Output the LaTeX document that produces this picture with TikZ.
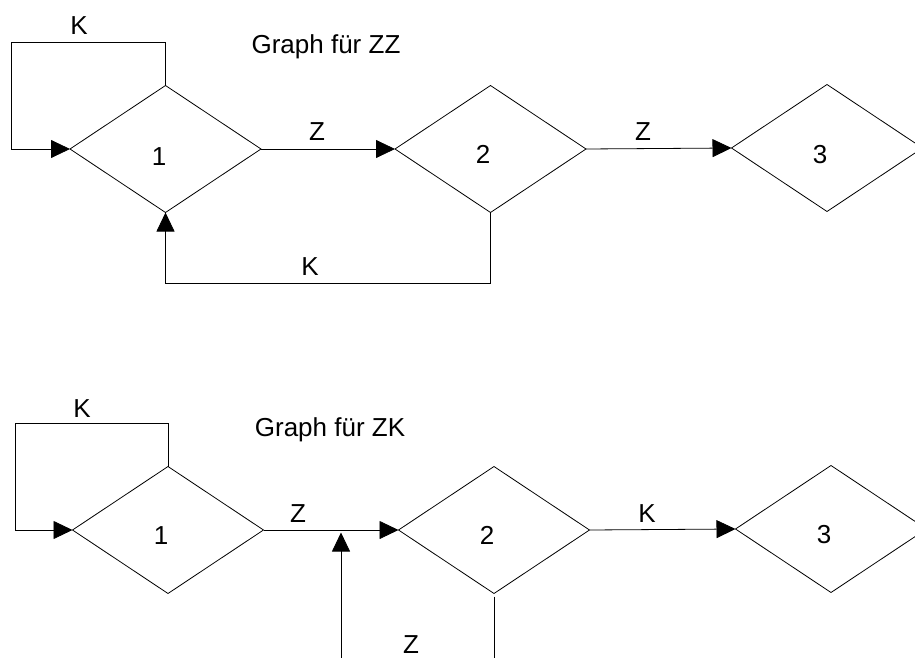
\documentclass[tikz,border=0pt]{standalone}
\usepackage{fontspec}
\setmainfont{Liberation Sans}
\usetikzlibrary{shapes.geometric,arrows.meta}
\tikzset{
  dia/.style={shape=diamond,draw=black,line width=0.8pt,minimum width=191pt,minimum height=127pt,inner sep=0pt,outer sep=0pt},
  lbl/.style={anchor=base,inner sep=0pt,font=\fontsize{26}{30}\selectfont},
  conn/.style={draw=black,line width=0.8pt},
  arr/.style={conn,-{Triangle[length=19pt,width=18pt]}}
}
\begin{document}
\begin{tikzpicture}[x=1pt,y=1pt]
\clip (0,0) rectangle (915,-658);
\fill[white] (0,0) rectangle (915,-658);
% ---------- top graph ----------
\node[dia] (t1) at (165.5,-149) {};
\node[dia] (t2) at (490.5,-149) {};
\node[dia] (t3) at (827,-148) {};
\node[lbl] (t1l) at (159,-165) {1};
\node[lbl] (t2l) at (483,-163) {2};
\node[lbl] (t3l) at (820,-163) {3};
\node[lbl] (title1) at (326,-53.3) {Graph für ZZ};
\coordinate (tloop) at (11,-42);
\draw[arr] (t1.north) |- (tloop) |- (t1.west);
\node[lbl] (tK) at (79,-34.3) {K};
\draw[arr] (t1.east) -- (t2.west);
\node[lbl] (tZ1) at (317,-140.8) {Z};
\draw[arr] (t2.east) -- (t3.west);
\node[lbl] (tZ2) at (643,-140.8) {Z};
\coordinate (tback) at (165.5,-283);
\draw[arr] (t2.south) |- (tback) -- (t1.south);
\node[lbl] (tKb) at (310,-275.8) {K};
% ---------- bottom graph ----------
\node[dia] (b1) at (168,-530) {};
\node[dia] (b2) at (494,-530) {};
\node[dia] (b3) at (831,-529) {};
\node[lbl] (b1l) at (161,-544) {1};
\node[lbl] (b2l) at (487,-544) {2};
\node[lbl] (b3l) at (824,-543) {3};
\node[lbl] (title2) at (330,-436.3) {Graph für ZK};
\coordinate (bloop) at (15,-423);
\draw[arr] (b1.north) |- (bloop) |- (b1.west);
\node[lbl] (bK) at (82,-417.3) {K};
\draw[arr] (b1.east) -- (b2.west);
\node[lbl] (bZ1) at (298,-522.3) {Z};
\draw[arr] (b2.east) -- (b3.west);
\node[lbl] (bK2) at (647,-522.3) {K};
\coordinate (bup0) at (341,-660);
\coordinate (bup1) at (341,-532.5);
\draw[arr] (bup0) -- (bup1);
\coordinate (bdown) at (494,-660);
\draw[conn] ([yshift=-3pt]b2.south) -- (bdown);
\node[lbl] (bZ2) at (411,-653.5) {Z};
\end{tikzpicture}
\end{document}
